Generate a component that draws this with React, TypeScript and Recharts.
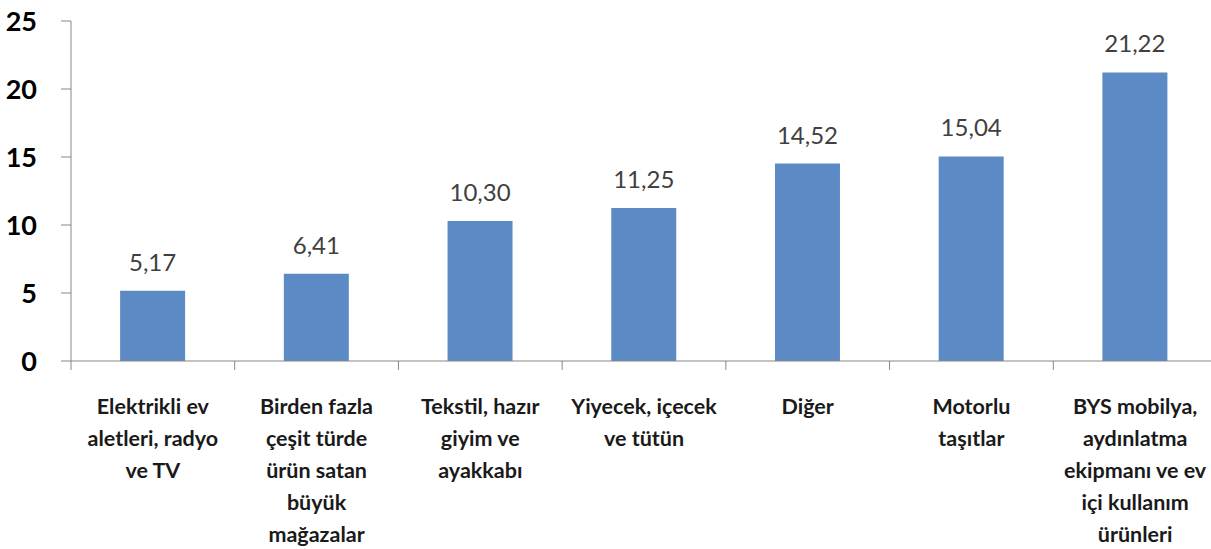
import React from 'react';
import { BarChart, Bar, XAxis, YAxis, LabelList } from 'recharts';

// Kategoriler (satır sonları resimdeki gibi)
const categories = [
  'Elektrikli ev\naletleri, radyo\nve TV',
  'Birden fazla\nçeşit türde\nürün satan\nbüyük\nmağazalar',
  'Tekstil, hazır\ngiyim ve\nayakkabı',
  'Yiyecek, içecek\nve tütün',
  'Diğer',
  'Motorlu\ntaşıtlar',
  'BYS mobilya,\naydınlatma\nekipmanı ve ev\niçi kullanım\nürünleri',
];
const values = [5.17, 6.41, 10.3, 11.25, 14.52, 15.04, 21.22];
const yTicks = [0, 5, 10, 15, 20, 25];

const data = categories.map((name, i) => ({ name, value: values[i] }));

const CHART_W = 1220;
const CHART_H = 549;
const MARGIN = { top: 21, right: 3, left: 0, bottom: 0 };
const Y_W = 71;
const BAND = (CHART_W - MARGIN.left - MARGIN.right - Y_W) / categories.length;
const AXIS_COLOR = '#878787';
const FONT = 'Lato, "Open Sans", sans-serif';

const fmt = (v: any) => Number(v).toFixed(2).replace('.', ',');

const CategoryTick = (props: any) => {
  const { x, y, payload } = props;
  const lines = String(payload.value).split('\n');
  return (
    <g>
      <line x1={x - BAND / 2} x2={x - BAND / 2} y1={y} y2={y + 9} stroke={AXIS_COLOR} />
      <text x={x} y={y + 53} textAnchor="middle" fontFamily={FONT} fontWeight="bold" fontSize={21.5} fill="#1a1a1a">
        {lines.map((l, i) => (
          <tspan key={i} x={x} dy={i === 0 ? 0 : 32}>{l}</tspan>
        ))}
      </text>
    </g>
  );
};

export default function App() {
  return (
    <div style={{ position: 'absolute', left: 0, top: 0, width: 1211, height: 549, overflow: 'hidden', background: '#fff' }}>
      <BarChart width={CHART_W} height={CHART_H} data={data} margin={MARGIN} barCategoryGap="30%">
        <XAxis
          dataKey="name"
          height={CHART_H - 361}
          interval={0}
          tickLine={false}
          tickSize={0}
          tickMargin={0}
          axisLine={{ stroke: AXIS_COLOR }}
          tick={<CategoryTick />}
        />
        <YAxis
          width={Y_W}
          domain={[0, 25]}
          ticks={yTicks}
          tickSize={10}
          tickMargin={24}
          axisLine={{ stroke: AXIS_COLOR }}
          tickLine={{ stroke: AXIS_COLOR }}
          tick={{ fontFamily: FONT, fontWeight: 'bold', fontSize: 27, fill: '#000' }}
        />
        <Bar dataKey="value" fill="#5B8AC5" isAnimationActive={false}>
          <LabelList
            dataKey="value"
            position="top"
            offset={20}
            formatter={fmt}
            style={{ fontFamily: FONT, fontSize: 24, fill: '#404040' }}
          />
        </Bar>
      </BarChart>
    </div>
  );
}
